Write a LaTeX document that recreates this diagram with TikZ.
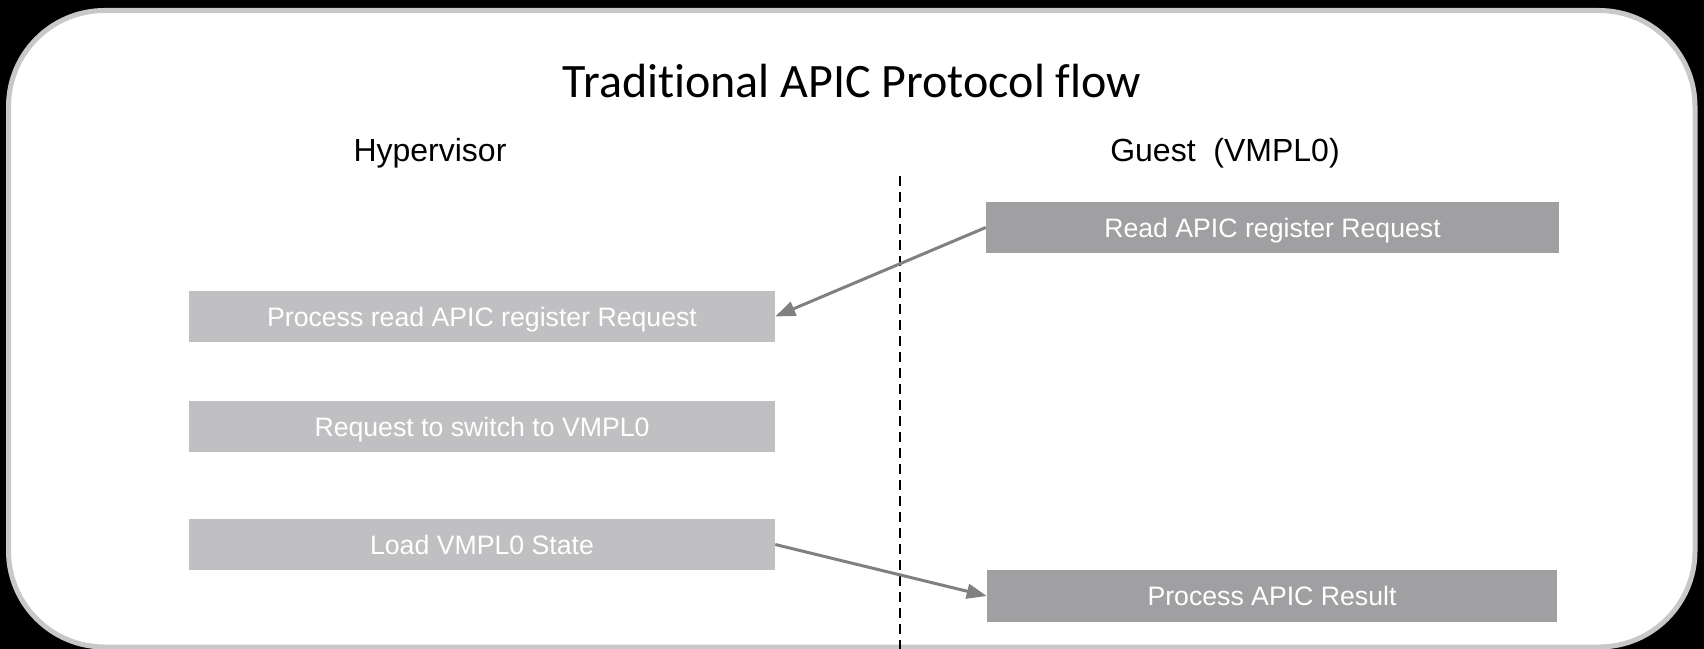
\documentclass[tikz,border=0pt]{standalone}
\usepackage{fontspec}
\setmainfont{Liberation Sans}
\newfontfamily\titlefont[Ligatures=NoCommon]{Carlito}
\usetikzlibrary{arrows.meta}
\definecolor{framegray}{RGB}{200,200,202}
\definecolor{hvfill}{RGB}{192,192,194}
\definecolor{guestfill}{RGB}{160,160,162}
\definecolor{flowgray}{RGB}{128,128,128}
\begin{document}
\begin{tikzpicture}[x=0.75pt,y=-0.75pt,
  hvstep/.style={fill=hvfill, text=white, inner sep=0pt,
    minimum width=439.5pt, minimum height=38.25pt,
    text height=14.3pt, text depth=0pt,
    font=\fontsize{20}{24}\selectfont},
  gueststep/.style={fill=guestfill, text=white, inner sep=0pt,
    minimum width=429.75pt, minimum height=38.25pt,
    text height=14.3pt, text depth=0pt,
    font=\fontsize{20}{24}\selectfont},
  heading/.style={anchor=base, inner sep=0pt, font=\fontsize{24}{28}\selectfont},
  flow/.style={draw=flowgray, line width=2.25pt,
    -{Triangle[length=15pt,width=11pt]}}]
  % canvas and rounded panel
  \fill[black] (0,0) rectangle (1704,649);
  \useasboundingbox (0,0) rectangle (1704,649);
  \draw[framegray, fill=white, line width=3.75pt, rounded corners=72pt]
    (8.5,10.5) rectangle (1695,647);
  % titles
  \node[anchor=base, inner sep=0pt, font=\titlefont\fontsize{36}{40}\selectfont]
    (title) at (852,98) {Traditional APIC Protocol flow};
  \node[heading] (hv) at (430,162) {Hypervisor};
  \node[heading] (guest) at (1225,162) {Guest\ \ (VMPL0)};
  % boundary between hypervisor and guest
  \coordinate (sepTop) at (900,176);
  \coordinate (sepBot) at (900,649);
  \draw[black, line width=1.5pt, dash pattern=on 7.5pt off 4.5pt] (sepTop) -- (sepBot);
  % steps
  \node[gueststep] (readreq) at (1272.5,227.5) {Read APIC register Request};
  \node[hvstep] (procread) at (482,316.5) {Process read APIC register Request};
  \node[hvstep] (switchreq) at (482,426.5) {Request to switch to VMPL0};
  \node[hvstep] (loadstate) at (482,544.5) {Load VMPL0 State};
  \node[gueststep, minimum width=427.5pt, minimum height=39pt] (result) at (1272,596) {Process APIC Result};
  % flow
  \draw[flow] (readreq.west) -- (procread.east);
  \draw[flow] (loadstate.east) -- (result.west);
\end{tikzpicture}
\end{document}
